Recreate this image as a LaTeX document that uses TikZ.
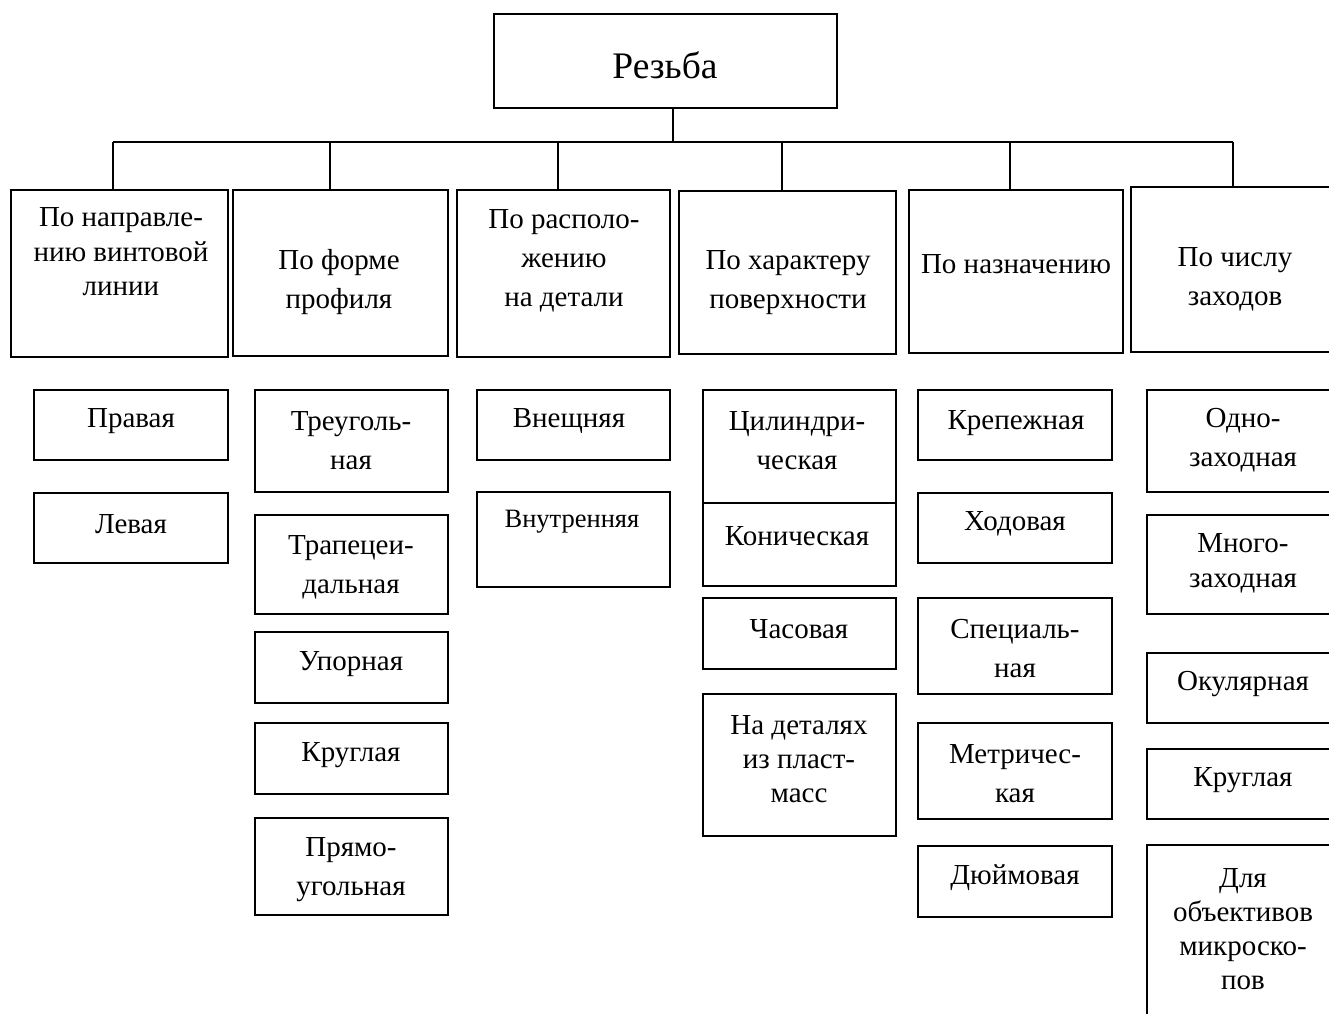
\documentclass[tikz,border=0pt]{standalone}
\usepackage{fontspec}
\setmainfont{Liberation Serif}
\newcommand\fsz[2]{\fontsize{#1}{#2}\selectfont}
\newcommand\bx[5]{\node[box, minimum width=#4pt-#2pt, minimum height=#5pt-#3pt] (#1) at ({(#2+#4)/2},{(#3+#5)/2}) {};}
\tikzset{
  box/.style={draw, line width=1.4pt, inner sep=0pt, outer sep=0pt},
  lbl/.style={align=center, inner sep=0pt, font=\fsz{29}{39}},
  conn/.style={line width=1.4pt}
}
\begin{document}
\begin{tikzpicture}[x=1pt,y=-1pt]
\useasboundingbox (0,0) rectangle (1329,1013);
\clip (0,0) rectangle (1329,1013);
% root
\bx{root}{494}{14}{837}{108}
\node[lbl, font=\fsz{37.5}{40}] (troot) at (665,65) {Резьба};
% level 2
\bx{a1}{11}{190}{228}{357}
\bx{a2}{233}{190}{448}{356}
\bx{a3}{457}{190}{670}{357}
\bx{a4}{679}{191}{896}{354}
\bx{a5}{909}{190}{1123}{353}
\bx{a6}{1131}{187}{1345}{352}
\node[lbl, font=\fsz{29}{34.5}] (ta1) at (121,252) {По направле-\\нию винтовой\\линии};
\node[lbl] (ta2) at (339,282.5) {По форме\\профиля};
\node[lbl] (ta3) at (564,261) {По располо-\\жению\\на детали};
\node[lbl] (ta4) at (788,282.5) {По характеру\\поверхности};
\node[lbl] (ta5) at (1016,264) {По назначению};
\node[lbl] (ta6) at (1235,279.5) {По числу\\заходов};
% connectors
\coordinate (rt) at (673,142);
\coordinate (bl) at (113,142);
\coordinate (br) at (1233,142);
\coordinate (d2) at (330,142);
\coordinate (d3) at (558,142);
\coordinate (d4) at (782,142);
\coordinate (d5) at (1010,142);
\draw[conn] (rt |- root.south) -- (rt);
\draw[conn] (bl) -- (br);
\draw[conn] (bl) -- (bl |- a1.north);
\draw[conn] (d2) -- (d2 |- a2.north);
\draw[conn] (d3) -- (d3 |- a3.north);
\draw[conn] (d4) -- (d4 |- a4.north);
\draw[conn] (d5) -- (d5 |- a5.north);
\draw[conn] (br) -- (br |- a6.north);
% column 1
\bx{b11}{34}{390}{228}{460}
\bx{b12}{34}{493}{228}{563}
\node[lbl] (tb11) at (131,421) {Правая};
\node[lbl] (tb12) at (131,524) {Левая};
% column 2
\bx{b21}{255}{390}{448}{492}
\bx{b22}{255}{515}{448}{614}
\bx{b23}{255}{632}{448}{703}
\bx{b24}{255}{723}{448}{794}
\bx{b25}{255}{818}{448}{915}
\node[lbl] (tb21) at (351,440.5) {Треуголь-\\ная};
\node[lbl] (tb22) at (351,567) {Трапецеи-\\дальная};
\node[lbl] (tb23) at (351,664) {Упорная};
\node[lbl] (tb24) at (351,755) {Круглая};
\node[lbl] (tb25) at (351,870) {Прямо-\\угольная};
% column 3
\bx{b31}{477}{390}{670}{460}
\bx{b32}{477}{492}{670}{587}
\node[lbl] (tb31) at (569,421) {Внещняя};
\node[lbl, font=\fsz{26.5}{30}] (tb32) at (572,522) {Внутренняя};
% column 4
\bx{b41}{703}{390}{896}{503}
\bx{b42}{703}{503}{896}{586}
\bx{b43}{703}{598}{896}{669}
\bx{b44}{703}{694}{896}{836}
\node[lbl] (tb41) at (797,440.5) {Цилиндри-\\ческая};
\node[lbl] (tb42) at (797,536) {Коническая};
\node[lbl] (tb43) at (799,629) {Часовая};
\node[lbl, font=\fsz{29}{34}] (tb44) at (799,759) {На деталях\\из пласт-\\масс};
% column 5
\bx{b51}{918}{390}{1112}{460}
\bx{b52}{918}{493}{1112}{563}
\bx{b53}{918}{598}{1112}{694}
\bx{b54}{918}{723}{1112}{819}
\bx{b55}{918}{846}{1112}{917}
\node[lbl] (tb51) at (1016,423) {Крепежная};
\node[lbl] (tb52) at (1015,524) {Ходовая};
\node[lbl] (tb53) at (1015,649) {Специаль-\\ная};
\node[lbl] (tb54) at (1015,774) {Метричес-\\кая};
\node[lbl] (tb55) at (1015,878) {Дюймовая};
% column 6
\bx{b61}{1147}{390}{1345}{492}
\bx{b62}{1147}{515}{1345}{614}
\bx{b63}{1147}{653}{1345}{723}
\bx{b64}{1147}{749}{1345}{819}
\bx{b65}{1147}{845}{1345}{1040}
\node[lbl] (tb61) at (1243,440.5) {Одно-\\заходная};
\node[lbl, font=\fsz{29}{35}] (tb62) at (1243,563.5) {Много-\\заходная};
\node[lbl] (tb63) at (1243,684) {Окулярная};
\node[lbl] (tb64) at (1243,780) {Круглая};
\node[lbl, font=\fsz{29}{34}] (tb65) at (1243,929) {Для\\объективов\\микроско-\\пов};
\end{tikzpicture}
\end{document}
